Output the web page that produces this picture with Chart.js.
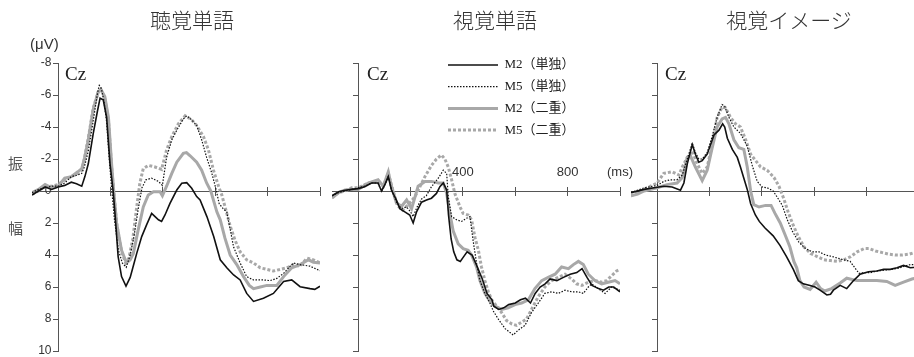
<!DOCTYPE html>
<html><head><meta charset="utf-8">
<script src="https://cdn.jsdelivr.net/npm/chart.js@4.4.1/dist/chart.umd.min.js"></script>
<style>
html,body{margin:0;padding:0;background:#fff;overflow:hidden;width:914px;height:357px;}
#wrap{position:relative;width:914px;height:357px;overflow:hidden;}
canvas{position:absolute;left:0;top:0;}
.t{position:absolute;white-space:nowrap;line-height:1;}
.title{font-family:'Noto Sans CJK JP',sans-serif;font-weight:300;font-size:21px;color:#333;top:9px;transform:translateX(-50%);}
.cz{font-family:'Liberation Serif',serif;font-size:19px;color:#222;top:64px;}
.unit{font-family:'Liberation Sans',sans-serif;font-size:15px;color:#333;top:36px;left:30px;}
.amp{font-family:'Noto Sans CJK JP',sans-serif;font-size:15px;color:#555;left:8px;}
</style></head>
<body><div id="wrap">
<canvas id="c1" width="930" height="372"></canvas>
<canvas id="c2" width="930" height="372"></canvas>
<canvas id="c3" width="930" height="372"></canvas>
<div class="t title" id="t1"></div><div class="t title" id="t2"></div><div class="t title" id="t3"></div>
<div class="t cz" style="left:65px">Cz</div><div class="t cz" style="left:367px">Cz</div><div class="t cz" style="left:665px">Cz</div>
<div class="t unit">(μV)</div>
<div class="t amp" style="top:155px">振</div><div class="t amp" style="top:220px">幅</div>
</div>
<script>
// ---- data ----
const panelTitles = ['聴覚単語', '視覚単語', '視覚イメージ'];
const seriesNames = ['M2（単独）', 'M5（単独）', 'M2（二重）', 'M5（二重）'];
const xTicks = [0, 200, 400, 600, 800, 1000];
const xTickLabels = ['', '', '400', '', '800', '(ms)'];
const yTicks = [-8, -6, -4, -2, 0, 2, 4, 6, 8, 10];
const yTickLabels = ['-8', '-6', '-4', '-2', '0', '2', '4', '6', '8', '10'];

// [time ms, amplitude µV]
const aud_M2s = [[-100,0.25],[-75,0.0],[-50,-0.25],[-25,-0.1],[0,-0.25],[25,-0.35],[50,-0.55],[70,-0.45],[90,-0.3],[102,-0.9],[115,-1.7],[134,-3.6],[150,-5.0],[160,-5.8],[172,-5.7],[185,-4.6],[198,-1.7],[210,0.0],[217,1.4],[229,4.1],[242,5.35],[259,5.95],[275,5.4],[290,4.5],[300,3.9],[319,2.85],[338,2.1],[357,1.4],[370,1.6],[383,1.8],[395,1.9],[408,1.5],[427,0.77],[453,-0.06],[472,-0.48],[491,-0.52],[510,-0.17],[529,0.35],[542,0.56],[568,1.6],[594,2.85],[619,4.3],[644,4.8],[670,5.25],[695,5.56],[720,6.4],[746,6.9],[784,6.7],[822,6.4],[861,5.66],[892,5.56],[924,5.98],[962,6.1],[980,6.15],[1000,5.95]];
const aud_M5s = [[-100,0.1],[-75,-0.1],[-50,-0.2],[-25,-0.3],[0,-0.3],[25,-0.5],[50,-0.9],[75,-1.0],[90,-1.1],[100,-1.5],[115,-2.5],[135,-4.5],[150,-6.1],[157,-6.6],[165,-6.4],[175,-5.6],[185,-4.3],[195,-2.0],[205,0.0],[215,1.8],[230,3.7],[245,4.5],[260,4.77],[275,4.0],[290,2.8],[305,1.2],[320,-0.2],[335,-0.7],[357,-0.8],[383,-0.6],[398,-0.35],[414,-2.1],[434,-3.2],[453,-3.8],[478,-4.5],[491,-4.7],[510,-4.45],[529,-4.1],[548,-3.2],[567,-2.1],[587,-1.1],[603,-0.1],[615,0.8],[630,1.1],[644,1.3],[657,2.4],[670,3.5],[695,4.5],[720,5.35],[746,5.56],[784,5.56],[810,5.6],[835,5.46],[861,5.15],[886,4.7],[899,4.5],[924,4.6],[962,4.7],[1000,4.98]];
const aud_M2d = [[-100,0.1],[-75,-0.1],[-50,-0.4],[-25,-0.2],[0,-0.3],[25,-0.8],[50,-0.9],[75,-1.2],[90,-1.4],[100,-2.0],[115,-3.2],[134,-5.1],[153,-6.2],[163,-6.35],[178,-5.9],[192,-4.6],[204,-1.7],[212,0.0],[223,2.0],[242,3.7],[261,4.5],[275,4.3],[287,3.9],[306,2.4],[325,1.0],[344,0.25],[364,0.05],[389,0.05],[398,0.3],[414,-0.3],[434,-1.1],[453,-1.8],[478,-2.35],[490,-2.4],[504,-2.2],[529,-1.8],[548,-1.3],[567,-0.5],[583,0.0],[606,1.3],[619,1.8],[637,2.95],[657,4.0],[682,4.6],[708,5.35],[730,5.9],[746,6.1],[772,6.0],[797,5.9],[835,5.9],[861,5.35],[892,4.8],[924,4.6],[956,4.3],[975,4.45],[1000,4.5]];
const aud_M5d = [[-100,0.2],[-75,0.0],[-50,-0.3],[-25,-0.3],[0,-0.4],[25,-0.7],[50,-0.9],[75,-1.1],[90,-1.3],[100,-2.0],[115,-3.3],[134,-5.2],[153,-6.2],[163,-6.35],[178,-5.8],[192,-4.4],[204,-1.5],[212,0.0],[223,2.0],[242,3.8],[258,4.5],[270,4.2],[285,3.0],[300,1.0],[312,-0.5],[325,-1.4],[345,-1.6],[370,-1.5],[395,-1.35],[414,-2.56],[434,-3.4],[459,-4.2],[485,-4.7],[510,-4.45],[529,-4.1],[555,-3.4],[574,-2.56],[593,-1.3],[613,-0.27],[625,0.25],[644,1.4],[657,2.2],[676,3.1],[695,3.8],[720,4.3],[746,4.5],[772,4.8],[797,4.9],[822,5.0],[848,4.9],[873,4.8],[899,4.6],[924,4.7],[950,4.2],[975,4.3],[1000,4.5]];

const vw_M2s = [[-100,0.3],[-75,0.05],[-50,-0.05],[-25,-0.1],[0,-0.15],[25,-0.27],[51,-0.5],[76,-0.5],[89,0.0],[102,-0.4],[115,-0.9],[127,-0.06],[146,0.56],[159,1.1],[178,1.3],[197,1.5],[210,2.0],[223,1.3],[242,0.7],[261,0.56],[280,0.45],[299,0.15],[312,-0.27],[325,-0.5],[338,-0.06],[345,1.5],[355,3.0],[365,3.8],[377,4.3],[390,4.4],[403,4.1],[416,3.8],[435,4.0],[454,4.7],[474,5.5],[492,6.4],[511,6.8],[518,7.2],[537,7.4],[556,7.3],[575,7.1],[600,7.0],[620,6.8],[639,6.7],[658,7.0],[676,6.4],[695,6.0],[714,5.8],[733,5.5],[759,5.6],[784,5.4],[810,5.2],[835,5.1],[855,4.85],[874,5.4],[893,5.9],[918,6.1],[937,6.2],[957,6.0],[976,6.0],[1000,6.3]];
const vw_M5s = [[-100,0.3],[-75,0.1],[-50,0.0],[-25,-0.1],[0,-0.2],[25,-0.3],[50,-0.5],[75,-0.5],[90,0.0],[102,-0.4],[115,-0.9],[127,-0.1],[146,0.7],[165,1.1],[185,1.0],[200,1.3],[210,1.6],[225,1.0],[242,0.5],[260,0.3],[280,-0.27],[306,-0.8],[325,-1.3],[338,-1.1],[344,0.35],[357,1.6],[376,1.8],[395,1.9],[414,1.7],[427,1.6],[439,3.1],[452,4.5],[465,5.6],[484,6.4],[503,7.0],[516,7.5],[535,8.0],[561,8.6],[592,9.0],[611,8.7],[637,8.4],[662,7.6],[688,7.0],[713,6.4],[739,6.3],[764,6.4],[790,6.2],[815,6.3],[841,6.3],[860,6.4],[879,6.0],[892,5.8],[917,6.1],[943,6.4],[968,6.0],[1000,6.2]];
const vw_M2d = [[-100,0.45],[-75,0.1],[-50,-0.06],[-25,-0.1],[0,-0.1],[38,-0.5],[76,-0.7],[96,-0.3],[115,-1.2],[127,-0.3],[146,0.75],[166,0.95],[185,0.56],[204,1.1],[229,-0.3],[255,-0.6],[280,-0.6],[306,-0.5],[325,-0.5],[338,0.15],[350,1.4],[363,2.5],[382,3.3],[401,3.6],[420,3.7],[433,4.0],[452,4.75],[465,5.6],[484,6.4],[503,6.9],[522,7.2],[548,7.4],[573,7.3],[599,7.1],[624,7.0],[650,6.8],[675,6.1],[701,5.6],[726,5.4],[752,5.2],[777,4.75],[803,4.85],[822,4.6],[841,4.4],[860,4.6],[879,5.2],[904,5.6],[930,5.8],[955,5.7],[981,5.6],[1000,5.8]];
const vw_M5d = [[-100,0.4],[-75,0.1],[-50,0.0],[-25,-0.2],[0,-0.2],[38,-0.5],[76,-0.6],[96,-0.3],[115,-1.1],[130,-0.2],[150,0.9],[170,1.2],[197,0.75],[217,0.35],[236,-0.27],[255,-0.9],[280,-1.6],[299,-2.0],[318,-2.25],[331,-2.0],[344,-1.5],[357,-0.7],[369,0.15],[389,1.0],[401,1.4],[420,1.5],[433,1.8],[446,2.9],[459,3.7],[471,4.75],[484,5.6],[497,6.3],[510,6.8],[529,7.2],[548,7.6],[567,8.1],[586,8.3],[605,8.4],[624,8.2],[643,8.0],[662,7.4],[688,6.6],[713,6.0],[739,5.6],[764,5.4],[790,5.2],[815,5.5],[834,5.8],[854,5.9],[879,5.7],[904,5.6],[930,5.7],[949,5.6],[968,5.3],[987,5.0],[1000,4.9]];

const vi_M2s = [[-100,0.1],[-50,-0.1],[0,-0.23],[25,-0.3],[57,-0.25],[89,-0.05],[102,-0.5],[115,-1.7],[134,-2.9],[146,-2.3],[159,-1.8],[172,-1.9],[191,-2.3],[217,-3.5],[236,-3.8],[250,-4.2],[258,-4.0],[268,-3.3],[287,-2.6],[306,-2.1],[318,-1.5],[331,-0.8],[344,-0.1],[357,0.8],[375,1.5],[390,1.9],[411,2.3],[443,2.8],[469,3.4],[494,4.1],[520,4.9],[539,5.6],[558,5.8],[584,5.9],[603,6.0],[622,6.2],[648,6.5],[662,6.45],[673,6.2],[699,5.9],[724,6.1],[750,5.6],[775,5.2],[807,5.05],[839,5.0],[865,4.9],[890,4.9],[916,4.8],[941,4.65],[967,4.8],[1000,4.75]];
const vi_M5s = [[-100,0.1],[-50,-0.2],[0,-0.35],[25,-0.6],[50,-0.7],[75,-0.7],[96,-1.0],[115,-2.0],[134,-3.0],[146,-2.4],[159,-2.0],[172,-2.0],[191,-2.4],[210,-3.4],[229,-4.6],[248,-5.4],[258,-5.3],[274,-4.6],[293,-4.0],[318,-3.6],[344,-2.8],[363,-1.6],[382,-0.6],[401,-0.25],[420,-0.2],[443,0.0],[459,0.4],[478,0.9],[497,1.8],[516,2.5],[541,3.2],[567,3.6],[592,3.8],[618,3.8],[643,4.0],[669,4.1],[701,4.25],[737,4.4],[755,4.8],[771,5.15],[790,5.1],[815,5.1],[841,5.0],[866,4.95],[892,4.9],[917,4.85],[943,4.7],[968,4.6],[1000,4.6]];
const vi_M2d = [[-100,0.3],[-75,0.2],[-50,0.0],[-25,-0.1],[0,-0.2],[38,-0.4],[76,-0.5],[96,-0.85],[115,-2.1],[127,-2.2],[146,-1.5],[172,-0.65],[191,-1.3],[210,-2.7],[229,-4.0],[248,-4.5],[261,-4.6],[274,-4.2],[293,-3.2],[312,-2.7],[331,-2.6],[344,-1.5],[357,0.0],[369,0.85],[389,1.0],[414,0.9],[435,0.9],[450,1.4],[470,2.0],[490,2.8],[507,3.5],[522,4.4],[533,4.8],[545,5.6],[561,6.0],[584,6.15],[607,5.7],[624,6.1],[640,6.25],[666,6.1],[699,5.75],[724,5.45],[763,5.6],[801,5.6],[839,5.6],[877,5.65],[909,5.9],[941,5.7],[973,5.5],[1000,5.4]];
const vi_M5d = [[-100,0.3],[-75,0.1],[-50,-0.1],[-25,-0.3],[0,-0.5],[25,-1.1],[57,-1.2],[83,-1.0],[96,-1.5],[115,-2.1],[134,-2.5],[153,-1.7],[172,-1.1],[191,-1.5],[210,-2.9],[229,-4.6],[248,-5.25],[261,-5.2],[280,-4.6],[299,-4.2],[318,-4.0],[338,-3.2],[357,-2.3],[376,-1.9],[395,-1.5],[420,-1.3],[446,-0.85],[465,-0.3],[484,0.5],[500,1.3],[516,2.0],[539,2.85],[561,3.5],[586,3.9],[611,4.1],[637,4.3],[662,4.35],[688,4.4],[713,4.3],[739,4.1],[764,3.8],[790,3.6],[809,3.6],[834,3.75],[860,3.85],[885,3.95],[911,4.0],[936,4.0],[962,3.95],[981,3.85],[1000,3.85]];

// ---- styles / layout ----
const axisColor = '#555';
const styles = [
  {color: '#111', width: 1.6, dash: []},
  {color: '#111', width: 1.2, dash: [1.5, 1.5]},
  {color: '#a8a8a8', width: 3, dash: []},
  {color: '#a8a8a8', width: 3, dash: [3, 2]}
];
const legendPlacement = {left: 439.3, top: 49.8};
const yLabelGap = '  '; // keeps the y labels clear of the tick marks

const legendPlacer = {
  id: 'legendPlacer',
  afterLayout(chart) {
    const lg = chart.legend;
    if (!lg || !chart.options.plugins.legend.display) return;
    lg.left = legendPlacement.left;
    lg.top = legendPlacement.top;
    lg.right = lg.left + lg.width;
    lg.bottom = chart.chartArea.bottom;
  }
};

function makePanel(id, series, pad, showY, showX, showLegend) {
  const setTicks = s => { s.ticks = xTicks.map(v => ({value: v})); };
  new Chart(document.getElementById(id), {
    type: 'line',
    data: {
      datasets: series.map((arr, i) => ({
        label: seriesNames[i],
        data: arr.map(p => ({x: p[0], y: p[1]})),
        borderColor: styles[i].color,
        backgroundColor: styles[i].color,
        borderWidth: styles[i].width,
        borderDash: styles[i].dash,
        pointRadius: 0,
        fill: false,
        tension: 0
      }))
    },
    options: {
      responsive: false,
      animation: false,
      events: [],
      layout: {padding: pad},
      plugins: {
        tooltip: {enabled: false},
        legend: {
          display: showLegend,
          position: 'chartArea',
          align: 'start',
          labels: {
            usePointStyle: true,
            pointStyle: 'line',
            pointStyleWidth: 50,
            padding: 8.7,
            color: '#222',
            font: {family: "'Liberation Serif', 'Noto Sans CJK JP', serif", size: 13},
            generateLabels: chart => {
              const items = Chart.defaults.plugins.legend.labels.generateLabels(chart);
              items.forEach(it => {
                const ds = chart.data.datasets[it.datasetIndex];
                it.lineDash = ds.borderDash;
                it.lineWidth = ds.borderWidth;
                it.strokeStyle = ds.borderColor;
                it.lineCap = 'butt';
              });
              return items;
            }
          }
        }
      },
      scales: {
        x: {
          type: 'linear', min: -100, max: 1000, position: {y: 0},
          afterBuildTicks: setTicks,
          grid: {drawOnChartArea: false, drawTicks: true, tickLength: 4, color: axisColor, lineWidth: 1},
          border: {display: true, color: axisColor, width: 1},
          ticks: {
            display: showX, padding: -30, autoSkip: false, maxRotation: 0,
            color: '#333', font: {family: "'Liberation Sans', sans-serif", size: 13},
            callback: v => xTickLabels[xTicks.indexOf(v)]
          }
        },
        x2: {
          type: 'linear', axis: 'x', min: -100, max: 1000, position: {y: 0},
          afterBuildTicks: setTicks,
          grid: {drawOnChartArea: false, drawTicks: true, tickLength: -4, color: axisColor, lineWidth: 1},
          border: {display: false},
          ticks: {display: false}
        },
        y: {
          type: 'linear', min: -8, max: 10, reverse: true, position: {x: 0},
          afterBuildTicks: s => { s.ticks = yTicks.map(v => ({value: v})); },
          grid: {drawOnChartArea: false, drawTicks: true, tickLength: 5, color: axisColor, lineWidth: 1},
          border: {display: true, color: axisColor, width: 1},
          ticks: {
            display: showY, padding: 2, color: '#333',
            font: {family: "'Liberation Sans', sans-serif", size: 12},
            callback: v => yTickLabels[yTicks.indexOf(v)] + yLabelGap
          }
        }
      }
    },
    plugins: [legendPlacer]
  });
}

document.getElementById('t1').textContent = panelTitles[0];
document.getElementById('t2').textContent = panelTitles[1];
document.getElementById('t3').textContent = panelTitles[2];
document.getElementById('t1').style.left = '192px';
document.getElementById('t2').style.left = '495px';
document.getElementById('t3').style.left = '789px';

makePanel('c1', [aud_M2s, aud_M5s, aud_M2d, aud_M5d], {left: 32, right: 610, top: 63, bottom: 21}, true, false, false);
makePanel('c2', [vw_M2s, vw_M5s, vw_M2d, vw_M5d], {left: 332, right: 310, top: 63, bottom: 21}, false, true, true);
makePanel('c3', [vi_M2s, vi_M5s, vi_M2d, vi_M5d], {left: 631, right: 11, top: 63, bottom: 21}, false, false, false);
</script>
</body></html>
